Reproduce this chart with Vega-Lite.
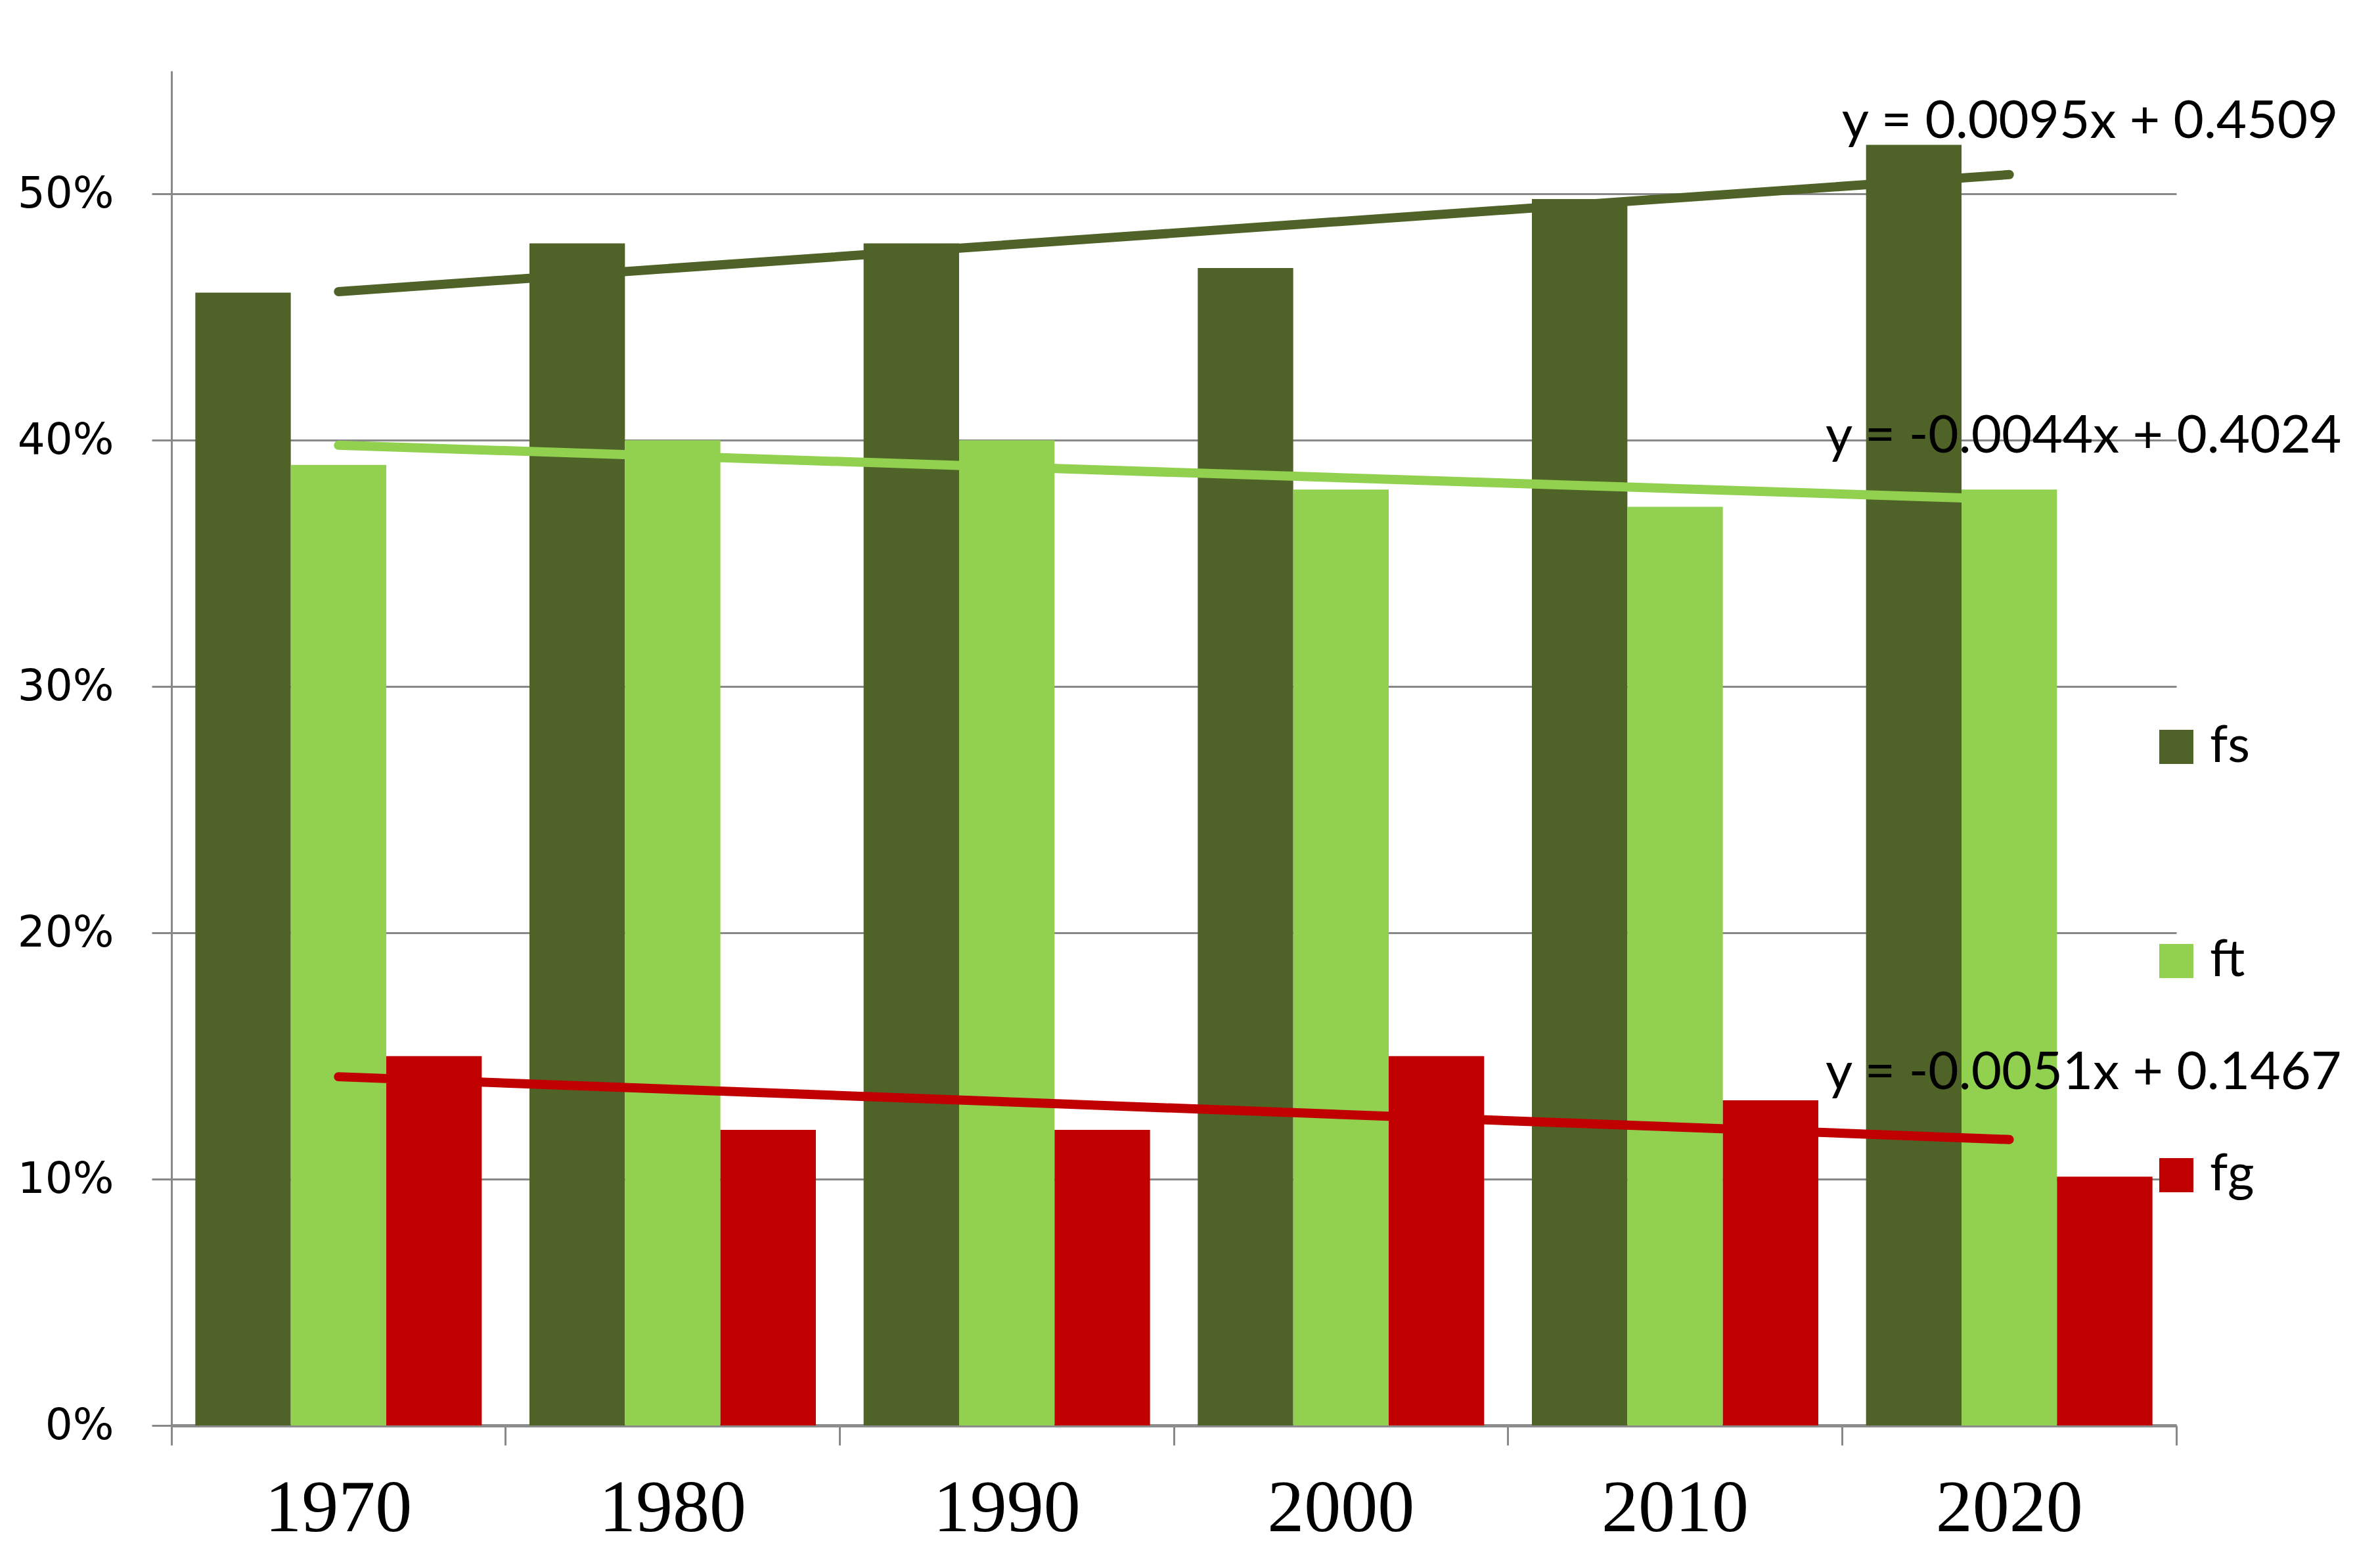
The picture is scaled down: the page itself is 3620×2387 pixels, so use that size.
{
  "$schema": "https://vega.github.io/schema/vega-lite/v6.json",
  "autosize": {"type": "none"},
  "padding": {"left": 261, "top": 108, "right": 307, "bottom": 217},
  "width": 3052,
  "height": 2062,
  "background": "white",
  "config": {"view": {"stroke": null}},
  "datasets": {
    "bars": [
      {"year": "1970", "series": "fs", "value": 0.46},
      {"year": "1970", "series": "ft", "value": 0.39},
      {"year": "1970", "series": "fg", "value": 0.15},
      {"year": "1980", "series": "fs", "value": 0.48},
      {"year": "1980", "series": "ft", "value": 0.40},
      {"year": "1980", "series": "fg", "value": 0.12},
      {"year": "1990", "series": "fs", "value": 0.48},
      {"year": "1990", "series": "ft", "value": 0.40},
      {"year": "1990", "series": "fg", "value": 0.12},
      {"year": "2000", "series": "fs", "value": 0.47},
      {"year": "2000", "series": "ft", "value": 0.38},
      {"year": "2000", "series": "fg", "value": 0.15},
      {"year": "2010", "series": "fs", "value": 0.498},
      {"year": "2010", "series": "ft", "value": 0.373},
      {"year": "2010", "series": "fg", "value": 0.132},
      {"year": "2020", "series": "fs", "value": 0.52},
      {"year": "2020", "series": "ft", "value": 0.38},
      {"year": "2020", "series": "fg", "value": 0.101}
    ],
    "trend": [
      {"year": "1970", "series": "fs", "trend": 0.4604, "eq": ""},
      {"year": "2020", "series": "fs", "trend": 0.5079, "eq": "y = 0.0095x + 0.4509"},
      {"year": "1970", "series": "ft", "trend": 0.3980, "eq": ""},
      {"year": "2020", "series": "ft", "trend": 0.3760, "eq": "y = -0.0044x + 0.4024"},
      {"year": "1970", "series": "fg", "trend": 0.1416, "eq": ""},
      {"year": "2020", "series": "fg", "trend": 0.1161, "eq": "y = -0.0051x + 0.1467"}
    ]
  },
  "layer": [
    {
      "data": {"name": "bars"},
      "mark": {"type": "bar"},
      "encoding": {
        "x": {
          "field": "year", "type": "nominal",
          "scale": {"paddingInner": 0, "paddingOuter": 0},
          "axis": {
            "title": null, "labelAngle": 0, "labelLimit": 0,
            "labelFont": "Liberation Serif", "labelFontSize": 112, "labelColor": "#000000",
            "labelPadding": 42,
            "bandPosition": 1, "tickExtra": true,
            "ticks": true, "tickSize": 30, "tickWidth": 3, "tickColor": "#888888",
            "domain": true, "domainColor": "#8c8c8c", "domainWidth": 5,
            "grid": false
          }
        },
        "xOffset": {
          "field": "series", "type": "nominal", "sort": ["fs", "ft", "fg"],
          "scale": {"paddingInner": 0, "paddingOuter": 0.25}
        },
        "y": {
          "field": "value", "type": "quantitative",
          "scale": {"domain": [0, 0.55], "nice": false, "zero": true},
          "axis": {
            "title": null, "values": [0, 0.1, 0.2, 0.3, 0.4, 0.5], "format": ".0%",
            "labelFont": "DejaVu Sans", "labelFontSize": 66, "labelColor": "#000000",
            "labelPadding": 58,
            "ticks": true, "tickSize": 30, "tickWidth": 3, "tickColor": "#888888",
            "domain": true, "domainColor": "#888888", "domainWidth": 3,
            "grid": true, "gridColor": "#888888", "gridWidth": 3
          }
        },
        "color": {
          "field": "series", "type": "nominal", "sort": ["fs", "ft", "fg"],
          "scale": {"domain": ["fs", "ft", "fg"], "range": ["#4F6228", "#92D050", "#C00000"]},
          "legend": {
            "orient": "none", "legendX": 3013, "legendY": 990, "direction": "vertical",
            "title": null, "symbolType": "square", "symbolSize": 2700, "symbolStrokeWidth": 0,
            "labelFont": "Lato", "labelFontSize": 78, "labelColor": "#000000",
            "labelOffset": 12, "rowPadding": 248, "labelLimit": 0
          }
        }
      }
    },
    {
      "data": {"name": "trend"},
      "mark": {"type": "line", "strokeWidth": 14, "strokeCap": "round"},
      "encoding": {
        "x": {"field": "year", "type": "nominal"},
        "y": {"field": "trend", "type": "quantitative"},
        "stroke": {
          "field": "series", "type": "nominal",
          "scale": {"domain": ["fs", "ft", "fg"], "range": ["#4F6228", "#92D050", "#C00000"]},
          "legend": null
        }
      }
    },
    {
      "data": {"name": "trend"},
      "transform": [{"filter": "datum.series === 'fs' && datum.year === '2020'"}],
      "mark": {"type": "text", "align": "center", "baseline": "alphabetic", "dx": 123, "dy": -56, "font": "Lato", "fontSize": 80, "color": "#000000"},
      "encoding": {
        "x": {"field": "year", "type": "nominal"},
        "y": {"field": "trend", "type": "quantitative"},
        "text": {"field": "eq"}
      }
    },
    {
      "data": {"name": "trend"},
      "transform": [{"filter": "datum.series === 'ft' && datum.year === '2020'"}],
      "mark": {"type": "text", "align": "center", "baseline": "alphabetic", "dx": 113, "dy": -71, "font": "Lato", "fontSize": 80, "color": "#000000"},
      "encoding": {
        "x": {"field": "year", "type": "nominal"},
        "y": {"field": "trend", "type": "quantitative"},
        "text": {"field": "eq"}
      }
    },
    {
      "data": {"name": "trend"},
      "transform": [{"filter": "datum.series === 'fg' && datum.year === '2020'"}],
      "mark": {"type": "text", "align": "center", "baseline": "alphabetic", "dx": 113, "dy": -77, "font": "Lato", "fontSize": 80, "color": "#000000"},
      "encoding": {
        "x": {"field": "year", "type": "nominal"},
        "y": {"field": "trend", "type": "quantitative"},
        "text": {"field": "eq"}
      }
    }
  ]
}
